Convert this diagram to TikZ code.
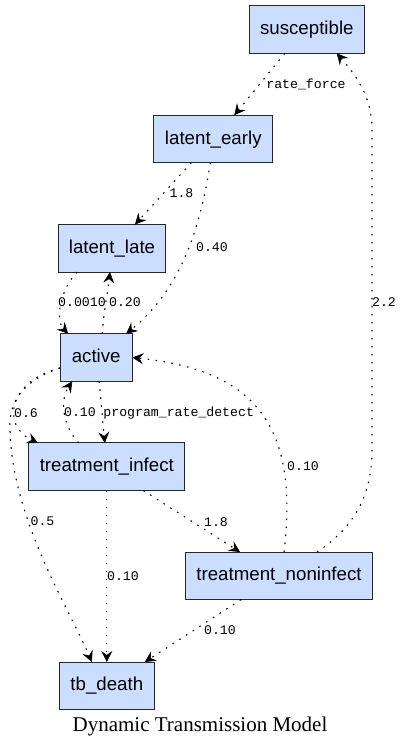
\documentclass[tikz,border=0pt]{standalone}
\usepackage{fontspec}
\setmainfont{Liberation Serif}
\newfontfamily\nodefont{Liberation Sans}
\newfontfamily\edgefont{Liberation Mono}
\usetikzlibrary{arrows.meta}
\definecolor{boxfill}{RGB}{204,222,255}
\definecolor{boxdraw}{RGB}{40,40,40}
\begin{document}
\begin{tikzpicture}[x=1pt,y=-1pt,
  state/.style={draw=boxdraw, fill=boxfill, line width=1pt, minimum height=47.6pt,
    inner sep=0pt, outer sep=0pt, text height=13.5pt, text depth=3.5pt,
    font=\nodefont\fontsize{18.7}{22}\selectfont},
  flow/.style={line width=1.1pt, dash pattern=on 1.6pt off 6.4pt,
    -{Stealth[length=11pt,width=11pt,inset=4pt,line width=0.6pt]}},
  lbl/.style={font=\edgefont\fontsize{13.2}{15}\selectfont, inner sep=0pt,
    text height=7pt, text depth=1pt}]
\useasboundingbox (0,0) rectangle (402,747);
\node[state, minimum width=115pt]   (susc) at (306.8,29.5)  {susceptible};
\node[state, minimum width=118.7pt] (le)   at (213.3,139)   {latent\_early};
\node[state, minimum width=107.3pt] (ll)   at (112,248.3)   {latent\_late};
\node[state, minimum width=72.3pt]  (act)  at (96.2,357.5)  {active};
\node[state, minimum width=155.7pt] (ti)   at (106.8,466.7) {treatment\_infect};
\node[state, minimum width=186.7pt] (tn)   at (279,575.8)   {treatment\_noninfect};
\node[state, minimum width=95pt]    (tb)   at (106.8,685.8) {tb\_death};
\node[font=\fontsize{21}{24}\selectfont, inner sep=0pt] (cap) at (200,726.7) {Dynamic Transmission Model};

\draw[flow] ([xshift=-22pt]susc.south) -- ([xshift=21pt]le.north)
  node[lbl] at (306,85) {rate\_force};
\draw[flow] ([xshift=-22pt]le.south) -- ([xshift=23pt]ll.north)
  node[lbl] at (181.5,194) {1.8};
\draw[flow] ([xshift=-3pt]le.south) .. controls (200,230) and (180,290) .. ([xshift=30pt]act.north)
  node[lbl] at (212,248) {0.40};
\draw[flow] ([xshift=-35pt]ll.south) .. controls (60,290) and (55,320) .. ([xshift=-28pt]act.north)
  node[lbl] at (82,303) {0.0010};
\draw[flow] ([xshift=6pt]act.north) .. controls (104,310) and (108,290) .. ([xshift=-2pt]ll.south)
  node[lbl] at (125,303) {0.20};
\draw[flow] ([yshift=-10.5pt]act.west) .. controls (10,380) and (0,425) .. ([xshift=9pt]ti.north west)
  node[lbl] at (26,414) {0.6};
\draw[flow] ([xshift=-28pt]ti.north) .. controls (62,425) and (60,400) .. ([xshift=-24pt]act.south)
  node[lbl] at (80,413) {0.10};
\draw[flow] ([xshift=3pt]act.south) -- ([xshift=-2pt]ti.north)
  node[lbl] at (178.7,413) {program\_rate\_detect};
\draw[flow] ([xshift=5pt]tn.north) .. controls (300,420) and (250,370) .. (act.east)
  node[lbl] at (303,467) {0.10};
\draw[flow] ([xshift=38pt]tn.north) .. controls (350,530) and (372,500) .. (372,450)
  -- (372,130) .. controls (372,100) and (360,80) .. ([xshift=30pt]susc.south)
  node[lbl] at (384,303) {2.2};
\draw[flow] ([xshift=36.5pt]ti.south) -- ([xshift=-39pt]tn.north)
  node[lbl] at (216,523) {1.8};
\draw[flow] ([yshift=-10.5pt]act.west) .. controls (25,380) and (8,400) .. (10,430)
  .. controls (12,520) and (70,610) .. ([xshift=-15pt]tb.north)
  node[lbl] at (42.5,522) {0.5};
\draw[flow] (ti.south) -- (tb.north)
  node[lbl] at (123,577) {0.10};
\draw[flow] ([xshift=-38pt]tn.south) -- ([xshift=38pt]tb.north)
  node[lbl] at (220,631) {0.10};
\end{tikzpicture}
\end{document}
